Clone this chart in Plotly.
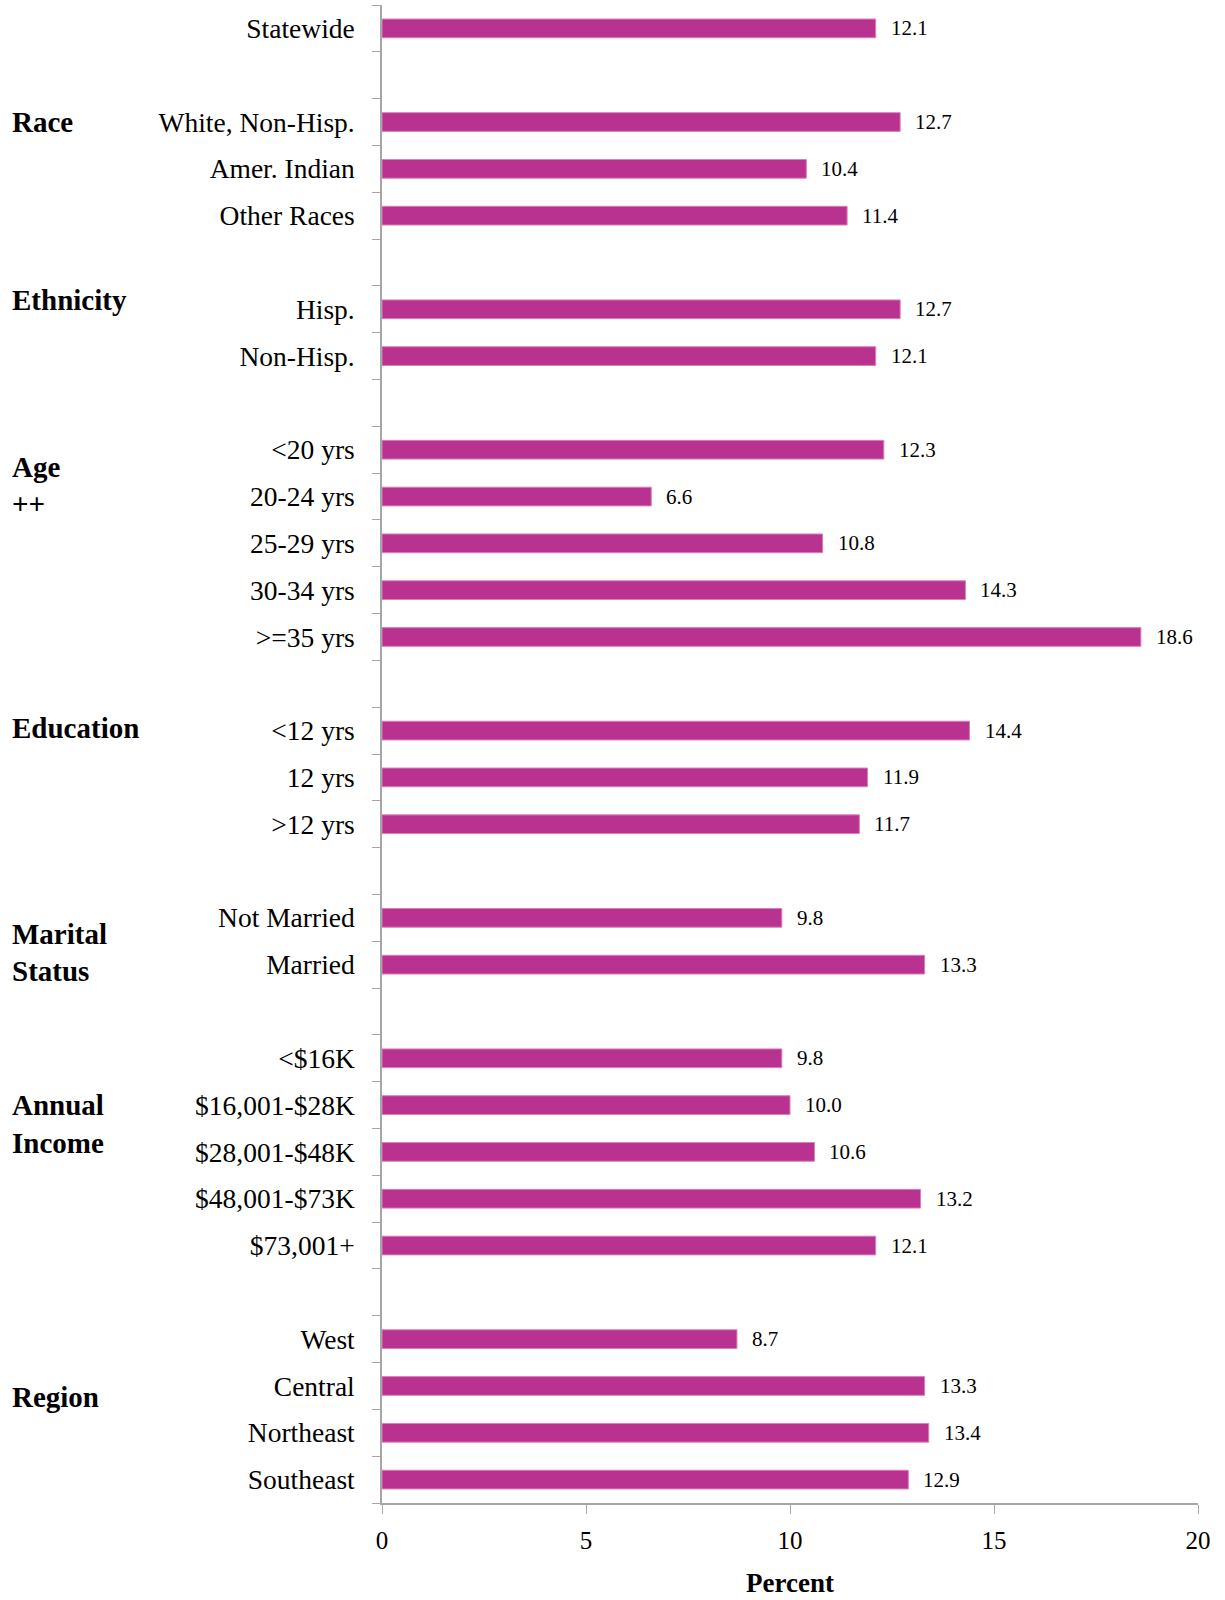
import plotly.graph_objects as go

# ---- data ----
group_names = ["", "Race", "Ethnicity", "Age", "Education", "Marital Status", "Annual Income", "Region"]
group_categories = [
    ["Statewide"],
    ["White, Non-Hisp.", "Amer. Indian", "Other Races"],
    ["Hisp.", "Non-Hisp."],
    ["<20 yrs", "20-24 yrs", "25-29 yrs", "30-34 yrs", ">=35 yrs"],
    ["<12 yrs", "12 yrs", ">12 yrs"],
    ["Not Married", "Married"],
    ["<$16K", "$16,001-$28K", "$28,001-$48K", "$48,001-$73K", "$73,001+"],
    ["West", "Central", "Northeast", "Southeast"],
]
group_values = [
    [12.1],
    [12.7, 10.4, 11.4],
    [12.7, 12.1],
    [12.3, 6.6, 10.8, 14.3, 18.6],
    [14.4, 11.9, 11.7],
    [9.8, 13.3],
    [9.8, 10.0, 10.6, 13.2, 12.1],
    [8.7, 13.3, 13.4, 12.9],
]
x_ticks = [0, 5, 10, 15, 20]

# group heading lines and their vertical slot positions (layout only)
heading_lines = [
    ("Race", 2.0), ("Ethnicity", 5.8), ("Age", 9.36), ("++", 10.16),
    ("Education", 14.95), ("Marital", 19.35), ("Status", 20.14),
    ("Annual", 23.0), ("Income", 23.82), ("Region", 29.24),
]

# ---- build slot layout (blank slot between groups) ----
labels, values, pos = [], [], []
slot = 0
for gi, (cats, vals) in enumerate(zip(group_categories, group_values)):
    if gi > 0:
        slot += 1  # blank gap row
    for c, v in zip(cats, vals):
        labels.append(c)
        values.append(v)
        pos.append(slot)
        slot += 1
n_slots = slot

BAR = "#BA3290"
FONT = "Liberation Serif"
AXC = "#A6A6A6"

fig = go.Figure()
fig.add_trace(go.Bar(
    x=values, y=pos, orientation="h", width=0.4,
    marker=dict(color=BAR, line=dict(color="#D880BC", width=1)),
    hoverinfo="x+text", hovertext=labels, showlegend=False,
))

annotations = []
for v, p in zip(values, pos):
    annotations.append(dict(
        x=v, y=p, xref="x", yref="y", text=f"{v:.1f}", showarrow=False,
        xanchor="left", yanchor="middle", xshift=13,
        font=dict(family=FONT, size=21, color="#000000"),
    ))
for txt, yp in heading_lines:
    annotations.append(dict(
        x=0, xref="paper", xshift=-372, y=yp, yref="y", text=f"<b>{txt}</b>",
        showarrow=False, xanchor="left", yanchor="middle",
        font=dict(family=FONT, size=29, color="#000000"),
    ))

fig.update_layout(
    width=1225, height=1600,
    margin=dict(l=382, r=27, t=5, b=97),
    paper_bgcolor="white", plot_bgcolor="white",
    font=dict(family=FONT, color="#000000"),
    annotations=annotations,
    xaxis=dict(
        range=[0, 20], tickvals=x_ticks, ticks="outside", ticklen=9,
        tickcolor=AXC, showline=True, linecolor=AXC, linewidth=1.5,
        showgrid=False, zeroline=False,
        tickfont=dict(family=FONT, size=25, color="#000000"),
        ticklabelstandoff=5,
        title=dict(text="<b>Percent</b>", font=dict(family=FONT, size=27, color="#000000"), standoff=20),
    ),
    yaxis=dict(
        range=[n_slots - 0.5, -0.5], tickvals=pos, ticktext=labels, ticks="",
        showline=True, linecolor=AXC, linewidth=1.5, showgrid=False, zeroline=False,
        tickfont=dict(family=FONT, size=27.5, color="#000000"),
        ticklabelstandoff=20,
        minor=dict(tick0=-0.5, dtick=1, ticks="outside", ticklen=8, tickcolor=AXC, showgrid=False),
    ),
    bargap=0.6,
)

fig.write_html("out.html")
